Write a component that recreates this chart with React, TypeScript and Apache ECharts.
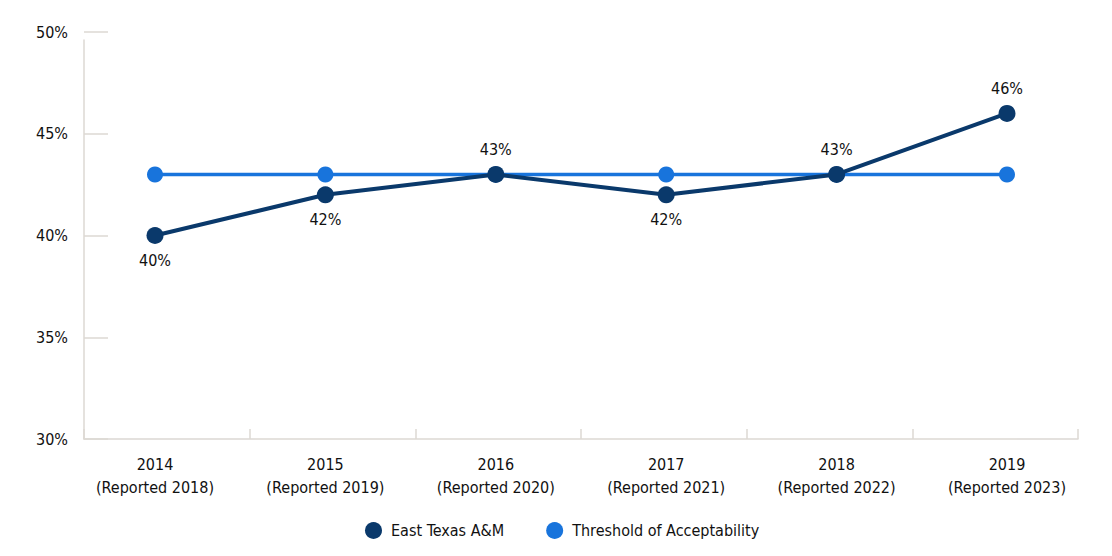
import { useEffect, useRef } from 'react'
import * as echarts from 'echarts'

const years = ['2014', '2015', '2016', '2017', '2018', '2019']
const reported = ['2018', '2019', '2020', '2021', '2022', '2023']
const eastTexas = [40, 42, 43, 42, 43, 46]
const threshold = [43, 43, 43, 43, 43, 43]
// label above or below each East Texas point
const labelPos = ['bottom', 'bottom', 'top', 'bottom', 'top', 'top']

const FONT = '"DejaVu Sans Condensed", "Liberation Sans Narrow", sans-serif'
const NAVY = '#0a396b'
const BLUE = '#1874dc'
const AXIS = '#dcd8d3'

export default function App() {
  const chartRef = useRef<HTMLDivElement>(null)

  useEffect(() => {
    if (!chartRef.current) return
    document.body.style.margin = '0'
    const chart = echarts.init(chartRef.current, null, { renderer: 'svg' })

    const cats = years.map((y, i) => `${y}\n(Reported ${reported[i]})`)
    const yBase = { type: 'value', min: 30, max: 50, interval: 5 }

    chart.setOption({
      animation: false,
      textStyle: { fontFamily: FONT },
      grid: [
        // data area: points sit inside the frame
        { left: 155, right: 105, top: 32, bottom: 117 },
        // frame with ticks
        { left: 84, right: 34, top: 32, bottom: 117 },
        // y-axis line (starts a little below the top tick)
        { left: 84, right: 34, top: 40, bottom: 117 },
      ],
      xAxis: [
        {
          type: 'category',
          gridIndex: 0,
          data: cats,
          boundaryGap: false,
          axisLine: { show: false },
          axisTick: { show: false },
          axisLabel: { color: '#111', fontSize: 16, lineHeight: 23, margin: 14, fontFamily: FONT },
        },
        {
          type: 'category',
          gridIndex: 1,
          data: years,
          boundaryGap: true,
          axisLine: { show: true, lineStyle: { color: AXIS, width: 1.5 } },
          axisTick: {
            show: true,
            inside: true,
            interval: 0,
            alignWithLabel: false,
            length: 10,
            lineStyle: { color: AXIS, width: 1.5 },
          },
          axisLabel: { show: false },
        },
        {
          type: 'category',
          gridIndex: 2,
          data: years,
          show: false,
        },
      ],
      yAxis: [
        { ...yBase, gridIndex: 0, show: false, splitLine: { show: false } },
        {
          ...yBase,
          gridIndex: 1,
          axisLine: { show: false },
          axisTick: { show: true, inside: true, length: 24, lineStyle: { color: AXIS, width: 1.5 } },
          splitLine: { show: false },
          axisLabel: { color: '#111', fontSize: 16, margin: 16, formatter: '{value}%', fontFamily: FONT },
        },
        {
          ...yBase,
          gridIndex: 2,
          axisLine: { show: true, lineStyle: { color: AXIS, width: 1.5 } },
          axisTick: { show: false },
          axisLabel: { show: false },
          splitLine: { show: false },
        },
      ],
      legend: {
        bottom: 12,
        left: 360,
        itemWidth: 17,
        itemHeight: 17,
        itemGap: 42,
        icon: 'circle',
        textStyle: { color: '#111', fontSize: 16, fontFamily: FONT, padding: [0, 0, 0, 4] },
        data: ['East Texas A&M', 'Threshold of Acceptability'],
      },
      series: [
        {
          name: 'Threshold of Acceptability',
          type: 'line',
          xAxisIndex: 0,
          yAxisIndex: 0,
          data: threshold,
          symbol: 'circle',
          symbolSize: 16,
          color: BLUE,
          lineStyle: { color: BLUE, width: 3.5 },
          itemStyle: { color: BLUE },
          z: 2,
        },
        {
          name: 'East Texas A&M',
          type: 'line',
          xAxisIndex: 0,
          yAxisIndex: 0,
          data: eastTexas.map((v, i) => ({
            value: v,
            label: { position: labelPos[i] },
          })),
          symbol: 'circle',
          symbolSize: 17,
          color: NAVY,
          lineStyle: { color: NAVY, width: 4 },
          itemStyle: { color: NAVY },
          label: {
            show: true,
            formatter: '{c}%',
            color: '#111',
            fontSize: 16,
            fontFamily: FONT,
            distance: 8,
          },
          z: 3,
        },
      ],
    })

    const onResize = () => chart.resize()
    window.addEventListener('resize', onResize)
    return () => {
      window.removeEventListener('resize', onResize)
      chart.dispose()
    }
  }, [])

  return <div ref={chartRef} style={{ width: 1112, height: 556 }} />
}
